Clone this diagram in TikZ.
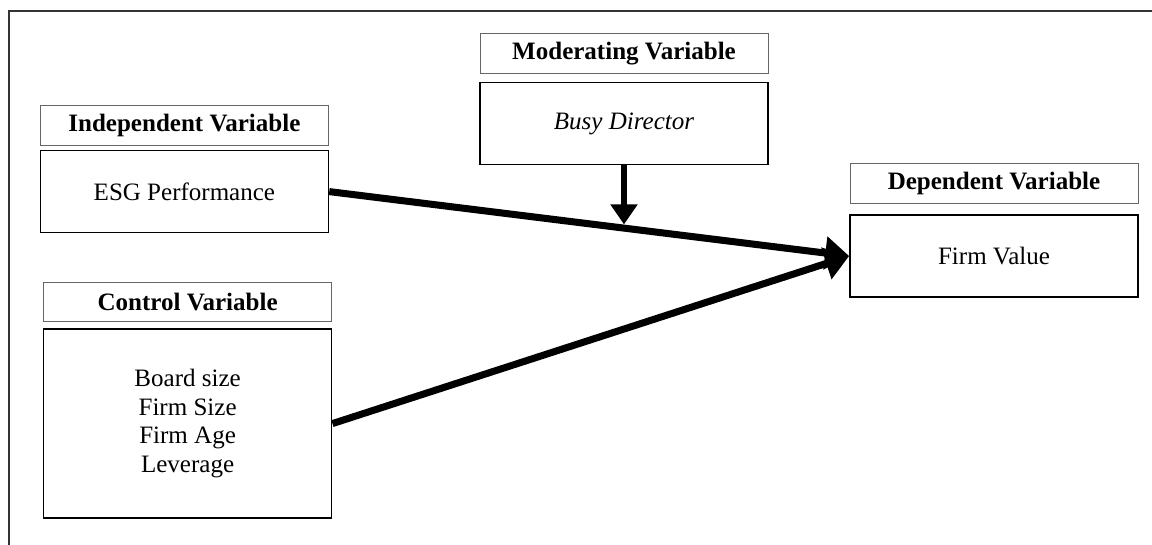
\documentclass[tikz,border=0pt]{standalone}
\usepackage{fontspec}
\setmainfont{Liberation Serif}
\usepackage{tikz}
\usetikzlibrary{positioning,calc,arrows.meta}

\tikzset{
  headbox/.style={draw=black!60, line width=0.7pt, minimum width=7.2cm, minimum height=1.0cm,
    font=\fontsize{17.8}{20}\selectfont\bfseries},
  varbox/.style={draw, line width=1.2pt, minimum width=7.2cm, minimum height=2.05cm,
    align=center, font=\fontsize{17.8}{20.5}\selectfont},
  bigarrow/.style={line width=5pt, -{Triangle[length=0.6cm,width=0.8cm]}},
  modarrow/.style={line width=3.8pt, -{Triangle[length=0.5cm,width=0.65cm]}}
}

\begin{document}
\begin{tikzpicture}
				\useasboundingbox (0,0) rectangle (28.8,-13.625);
				% frame (top and left side only)
				\draw[line width=2pt, black!80] (28.8,-0.275) -- (0.225,-0.275) -- (0.225,-13.625);
				
				% boxes of the variables
				\node[varbox] (esg) at (4.61,-4.79) {ESG Performance};
				\node[headbox, above=0.1cm of esg] (indep) {Independent Variable};
				
				\node[varbox] (busy) at (15.6,-3.09) {\itshape Busy Director};
				\node[headbox, above=0.2cm of busy] (moder) {Moderating Variable};
				
				\node[varbox] (firm) at (24.85,-6.4) {Firm Value};
				\node[headbox, above=0.25cm of firm] (depen) {Dependent Variable};
				
				\node[varbox, minimum height=4.725cm] (ctrl) at (4.69,-10.59) {Board size\\Firm Size\\Firm Age\\Leverage};
				\node[headbox, minimum height=0.975cm, above=0.15cm of ctrl] (contr) {Control Variable};
				
				% relations
				\draw[bigarrow] (esg.east) -- (firm.west);
				\draw[bigarrow] (ctrl.east) -- (firm.west);
				\coordinate (hit) at ($(esg.east)!0.572!(firm.west)$);
				\draw[modarrow] (busy.south) -- ($(busy.south |- hit)+(0,0.1)$);
			\end{tikzpicture}
\end{document}
